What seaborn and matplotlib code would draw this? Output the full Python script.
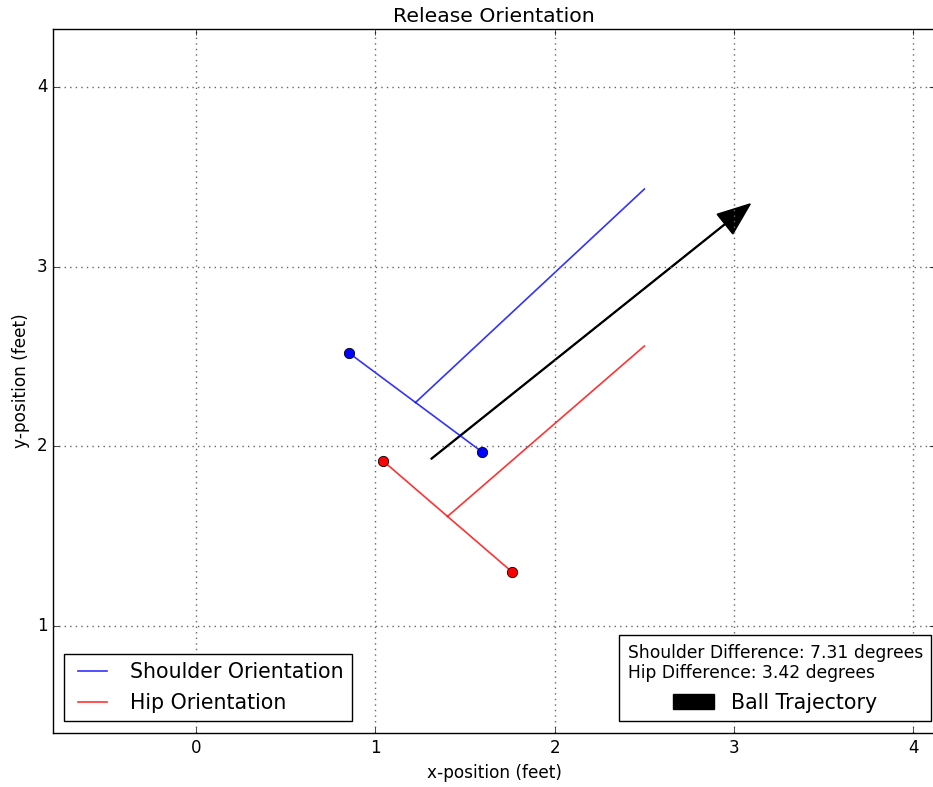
import matplotlib
matplotlib.use("Agg")
import matplotlib.pyplot as plt
import seaborn as sns
import pandas as pd
import numpy as np

# Data (feet)
shoulder_x = [0.853, 1.595]
shoulder_y = [2.519, 1.968]
hip_x = [1.043, 1.762]
hip_y = [1.918, 1.300]
shoulder_dir_end = [2.50, 3.432]
hip_dir_end = [2.50, 2.558]
ball_start = [1.311, 1.929]
ball_end = [3.09, 3.349]
shoulder_diff = 7.31
hip_diff = 3.42

plt.style.use("classic")
plt.rcParams["font.family"] = ["DejaVu Sans"]

fig = plt.figure(figsize=(9.33, 7.87), dpi=100, facecolor="white")
W, H = 933, 787
ax = fig.add_axes([53 / W, 1 - 733 / H, (935 - 53) / W, (733 - 29) / H])
ax.set_facecolor("white")

# Shoulder
sh_mid = [np.mean(shoulder_x), np.mean(shoulder_y)]
sns.lineplot(x=shoulder_x, y=shoulder_y, sort=False, color="b", lw=1.2, ax=ax,
             label="Shoulder Orientation", alpha=0.8)
sns.lineplot(x=[sh_mid[0], shoulder_dir_end[0]], y=[sh_mid[1], shoulder_dir_end[1]],
             sort=False, color="b", lw=1.2, ax=ax, alpha=0.8, legend=False)
sns.scatterplot(x=shoulder_x, y=shoulder_y, color="b", s=55, edgecolor="k",
                linewidth=0.6, ax=ax, legend=False, zorder=3)

# Hip
hp_mid = [np.mean(hip_x), np.mean(hip_y)]
sns.lineplot(x=hip_x, y=hip_y, sort=False, color="r", lw=1.2, ax=ax,
             label="Hip Orientation", alpha=0.8)
sns.lineplot(x=[hp_mid[0], hip_dir_end[0]], y=[hp_mid[1], hip_dir_end[1]],
             sort=False, color="r", lw=1.2, ax=ax, alpha=0.8, legend=False)
sns.scatterplot(x=hip_x, y=hip_y, color="r", s=55, edgecolor="k",
                linewidth=0.6, ax=ax, legend=False, zorder=3)

# Ball trajectory arrow
arr = ax.arrow(ball_start[0], ball_start[1], ball_end[0] - ball_start[0],
               ball_end[1] - ball_start[1], width=0.005, head_width=0.14,
               head_length=0.18, length_includes_head=True, fc="k", ec="k",
               label="Ball Trajectory")

ax.set_xlim(-0.797, 4.120)
ax.set_ylim(0.403, 4.323)
ax.set_xticks([0, 1, 2, 3, 4])
ax.set_yticks([1, 2, 3, 4])
ax.grid(True, color="#666666", linestyle=":", linewidth=1.0)
ax.set_title("Release Orientation", fontsize=14.7)
ax.set_xlabel("x-position (feet)", fontsize=12.2)
ax.set_ylabel("y-position (feet)", fontsize=12.2)
ax.tick_params(labelsize=12)

h, l = ax.get_legend_handles_labels()
line_h = [hh for hh, ll in zip(h, l) if ll in ("Shoulder Orientation", "Hip Orientation")]
leg1 = ax.legend(line_h, ["Shoulder Orientation", "Hip Orientation"], loc="lower left",
                 fontsize=14.8, fancybox=False, framealpha=1,
                 bbox_to_anchor=(64 / W, 1 - 721 / H), bbox_transform=fig.transFigure,
                 borderaxespad=0)
ax.add_artist(leg1)
leg2 = ax.legend([arr], ["Ball Trajectory"], loc="lower right", fontsize=14.8,
                 title=f"Shoulder Difference: {shoulder_diff} degrees\nHip Difference: {hip_diff} degrees",
                 title_fontsize=12.3, fancybox=False, framealpha=1,
                 bbox_to_anchor=(931 / W, 1 - 721 / H), bbox_transform=fig.transFigure,
                 borderaxespad=0)
leg2.get_title().set_multialignment("left")

fig.savefig("out.png", dpi=100, facecolor="white")
